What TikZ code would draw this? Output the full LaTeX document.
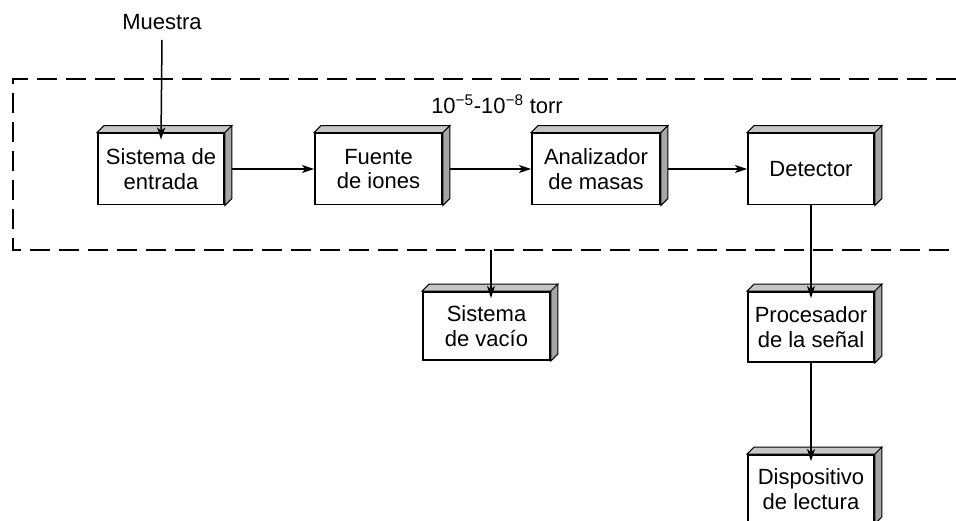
\documentclass[tikz,border=0pt]{standalone}
\usepackage{fontspec}
\setmainfont{Liberation Sans}
\usetikzlibrary{arrows.meta}
\tikzset{
  blk/.style={draw=black, line width=1.9pt, fill=white, align=center, inner sep=0pt,
    font=\fontsize{22}{24.5}\selectfont},
  tip/.style={-{Stealth[length=12pt,width=8pt,inset=3pt]}},
  conn/.style={line width=1.5pt, tip},
  vac/.style={line width=2pt, dash pattern=on 20pt off 9pt},
  topface/.style={fill=gray!45, draw=black, line width=1pt},
  sideface/.style={fill=gray!70, draw=black, line width=1pt},
  lbl/.style={font=\fontsize{22}{24.5}\selectfont, inner sep=0pt}
}
\newcommand{\threed}[1]{%
  \path[topface] (#1.north west) -- ++(7pt,7pt) -- ([shift={(7pt,7pt)}]#1.north east) -- (#1.north east) -- cycle;
  \path[sideface] (#1.north east) -- ++(7pt,7pt) -- ([shift={(7pt,7pt)}]#1.south east) -- (#1.south east) -- cycle;
}
\begin{document}
\begin{tikzpicture}[x=1pt,y=-1pt]
\useasboundingbox (0,0) rectangle (956,520);
% vacuum region
\draw[vac] (956,79) -- (13,79) -- (13,250) -- (956,250);
\node[lbl] (torr) at (497,104) {10\textsuperscript{\char"2212 5}-10\textsuperscript{\char"2212 8} torr};
% boxes
\node[blk, minimum width=126pt, minimum height=71pt] (entrada) at (161,169) {Sistema de\\entrada};
\node[blk, minimum width=127pt, minimum height=71pt] (fuente) at (378.5,169) {Fuente\\de iones};
\node[blk, minimum width=128pt, minimum height=71pt] (analiz) at (596,169) {Analizador\\de masas};
\node[blk, minimum width=126pt, minimum height=71pt] (detector) at (811,169) {Detector};
\node[blk, minimum width=127pt, minimum height=68pt] (vacio) at (486.5,326) {Sistema\\de vacío};
\node[blk, minimum width=126pt, minimum height=70pt] (proc) at (811,327) {Procesador\\de la señal};
\node[blk, minimum width=126pt, minimum height=68pt] (disp) at (811,489) {Dispositivo\\de lectura};
\threed{entrada}
\threed{fuente}
\threed{analiz}
\threed{detector}
\threed{vacio}
\threed{proc}
\threed{disp}
% sample
\node[lbl] (muestra) at (162,22) {Muestra};
\draw[conn] ([yshift=-10pt]muestra.south) -- ([yshift=-7pt]entrada.north);
% connectors
\draw[conn] ([xshift=7pt]entrada.east) -- (fuente.west);
\draw[conn] ([xshift=7pt]fuente.east) -- (analiz.west);
\draw[conn] ([xshift=7pt]analiz.east) -- (detector.west);
\draw[conn] (detector.south) -- ([yshift=-7pt]proc.north);
\draw[conn] (proc.south) -- ([yshift=-7pt]disp.north);
\coordinate (vtap) at (491,250);
\draw[conn] (vtap) -- ([yshift=-7pt]vtap |- vacio.north);
\end{tikzpicture}
\end{document}
